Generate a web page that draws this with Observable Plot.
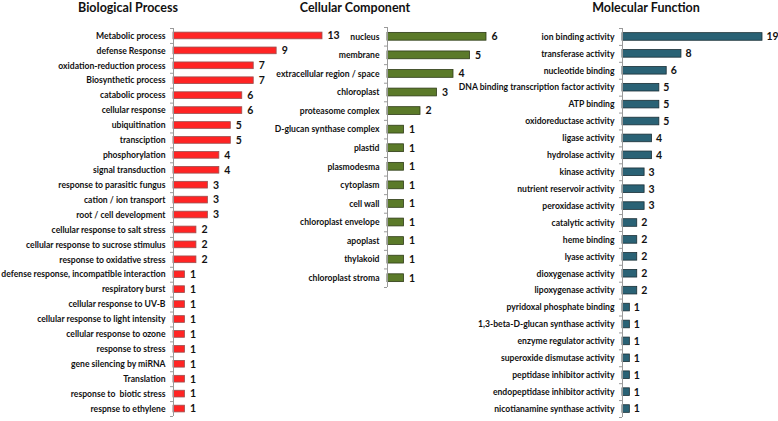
<!DOCTYPE html>
<html>
<head>
<meta charset="utf-8">
<script src="https://cdn.jsdelivr.net/npm/d3@7"></script>
<script src="https://cdn.jsdelivr.net/npm/@observablehq/plot@0.6"></script>
<style>
  html, body { margin: 0; padding: 0; background: #fff; }
  #root { position: relative; width: 778px; height: 421px; overflow: hidden; font-family: Lato, "Open Sans", sans-serif; }
  .panel { position: absolute; top: 0; line-height: 0; }
  .panel svg { display: block; }
  .title { position: absolute; top: 0px; font-weight: bold; font-size: 12.5px; line-height: 15px; color: #111; white-space: nowrap; transform: translateX(-50%); }
</style>
</head>
<body>
<div id="root"></div>
<script>
const bpNames = ["Metabolic process","defense Response","oxidation-reduction process","Biosynthetic process","catabolic process","cellular response","ubiquitination","transciption","phosphorylation","signal transduction","response to parasitic fungus","cation / ion transport","root / cell development","cellular response to salt stress","cellular response to sucrose stimulus","response to oxidative stress","defense response, incompatible interaction","respiratory burst","cellular response to UV-B","cellular response to light intensity","cellular response to ozone","response to stress","gene silencing by miRNA","Translation","response to  biotic stress","respnse to ethylene"];
const bpValues = [13,9,7,7,6,6,5,5,4,4,3,3,3,2,2,2,1,1,1,1,1,1,1,1,1,1];

const ccNames = ["nucleus","membrane","extracellular region / space","chloroplast","proteasome complex","D-glucan synthase complex","plastid","plasmodesma","cytoplasm","cell wall","chloroplast envelope","apoplast","thylakoid","chloroplast stroma"];
const ccValues = [6,5,4,3,2,1,1,1,1,1,1,1,1,1];

const mfNames = ["ion binding activity","transferase activity","nucleotide binding","DNA binding transcription factor activity","ATP binding","oxidoreductase activity","ligase activity","hydrolase activity","kinase activity","nutrient reservoir activity","peroxidase activity","catalytic activity","heme binding","lyase activity","dioxygenase activity","lipoxygenase activity","pyridoxal phosphate binding","1,3-beta-D-glucan synthase activity","enzyme regulator activity","superoxide dismutase activity","peptidase inhibitor activity","endopeptidase inhibitor activity","nicotianamine synthase activity"];
const mfValues = [19,8,6,5,5,5,4,4,3,3,3,2,2,2,2,2,1,1,1,1,1,1,1];

const titles = ["Biological Process","Cellular Component","Molecular Function"];

function panel({names, values, left, width, marginLeft, marginRight, marginTop, marginBottom, xmax, fill, stroke, titleX, title, padInner, dx}) {
  const data = names.map((n, i) => ({name: n, value: values[i]}));
  const height = 421;
  const step = (height - marginTop - marginBottom) / names.length;
  const tickLen = -3 * xmax / (width - marginLeft - marginRight);
  const plot = Plot.plot({
    width, height, marginLeft, marginRight, marginTop, marginBottom,
    style: {fontFamily: "Lato, 'Open Sans', sans-serif", fontSize: "8.6px", fontWeight: "bold", background: "transparent", overflow: "visible", color: "#111"},
    x: {domain: [0, xmax], axis: null, round: false},
    y: {domain: names, paddingInner: padInner, paddingOuter: padInner / 2, round: false, label: null},
    marks: [
      Plot.barX(data, {x: "value", y: "name", fill, stroke, strokeWidth: 0.8}),
      Plot.ruleX([0], {stroke: "#9a9a9a", strokeWidth: 1}),
      Plot.ruleY(names, {y: d => d, x1: tickLen, x2: 0, dy: -step / 2, stroke: "#9a9a9a"}),
      Plot.ruleY([names[names.length - 1]], {y: d => d, x1: tickLen, x2: 0, dy: step / 2, stroke: "#9a9a9a"}),
      Plot.axisY({tickSize: 0, tickPadding: 8, fill: "#111", label: null}),
      Plot.text(data, {x: "value", y: "name", text: d => String(d.value), textAnchor: "start", dx, fontSize: 10.5, fontWeight: "bold", fill: "#111"})
    ]
  });
  const div = document.createElement("div");
  div.className = "panel";
  div.style.left = left + "px";
  div.appendChild(plot);
  document.getElementById("root").appendChild(div);
  const t = document.createElement("div");
  t.className = "title";
  t.style.left = titleX + "px";
  t.textContent = title;
  document.getElementById("root").appendChild(t);
}

panel({names: bpNames, values: bpValues, left: 0, width: 345, marginLeft: 173, marginRight: 23, marginTop: 28, marginBottom: 5, xmax: 13, fill: "#ff2424", stroke: "#9a5050", titleX: 128, title: titles[0], padInner: 0.55, dx: 5});
panel({names: ccNames, values: ccValues, left: 250, width: 270, marginLeft: 137, marginRight: 34, marginTop: 27, marginBottom: 134, xmax: 6, fill: "#5b7a29", stroke: "#2e3b17", titleX: 355, title: titles[1], padInner: 0.58, dx: 5});
panel({names: mfNames, values: mfValues, left: 440, width: 338, marginLeft: 182, marginRight: 16, marginTop: 28, marginBottom: 4, xmax: 19, fill: "#2a6275", stroke: "#1a2f36", titleX: 646, title: titles[2], padInner: 0.55, dx: 4});
</script>
</body>
</html>
